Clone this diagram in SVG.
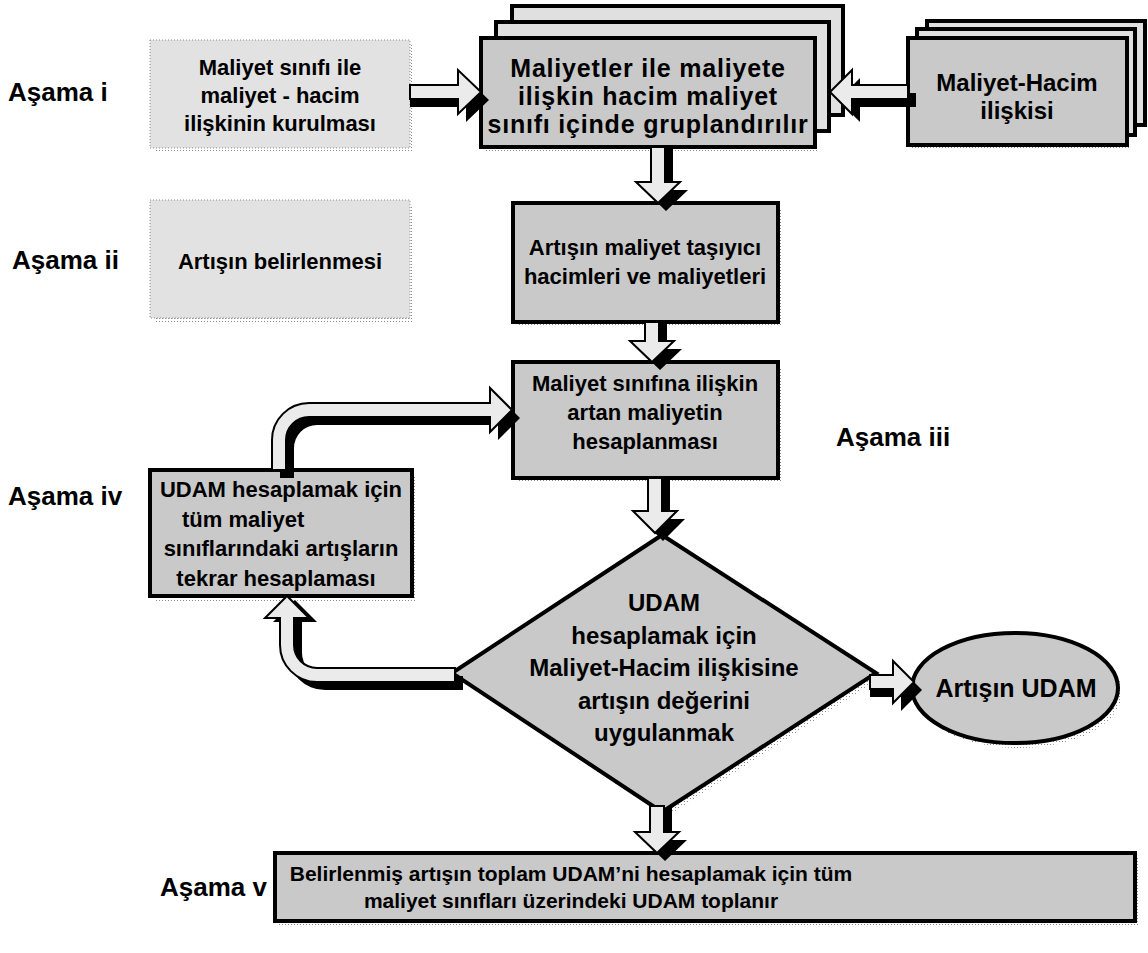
<svg xmlns="http://www.w3.org/2000/svg" width="1148" height="953" viewBox="0 0 1148 953">
  <defs>
    <pattern id="dots" width="3" height="3" patternUnits="userSpaceOnUse">
      <rect x="0" y="0" width="1" height="1" fill="#8c8c8c"/>
    </pattern>
    <style>
      text { font-family: "Liberation Sans", Arial, sans-serif; font-weight: bold; fill: #000; }
      .lbl { font-size: 26px; }
      .t { font-size: 22px; text-anchor: middle; }
      .tw { font-size: 25px; letter-spacing: 0.8px; text-anchor: middle; }
      .td { font-size: 24px; text-anchor: middle; }
      .tb { font-size: 21px; text-anchor: middle; }
      .soft { fill: #e2e2e2; stroke: #8a8a8a; stroke-width: 1; stroke-dasharray: 1 2; }
      .box { fill: #c9c9c9; stroke: #000; stroke-width: 4; }
      .back { fill: #e0e0e0; stroke: #000; stroke-width: 4; }
      .shadow { fill: url(#dots); }
      .lite { fill: #ebebeb; stroke: #000; stroke-width: 2; stroke-linejoin: miter; }
      .dark { fill: #000; }
    </style>
  </defs>

  <rect width="1148" height="953" fill="#fff"/>

  <!-- stage labels -->
  <g id="labels">
    <text class="lbl" x="8" y="101">Aşama i</text>
    <text class="lbl" x="12" y="269">Aşama ii</text>
    <text class="lbl" x="836" y="446">Aşama iii</text>
    <text class="lbl" x="8" y="505">Aşama iv</text>
    <text class="lbl" x="160" y="896">Aşama v</text>
  </g>

  <g id="nodes">
    <g id="n-sinif">
      <rect class="shadow" x="154" y="45" width="260" height="108"/>
      <rect class="soft" x="150" y="40" width="260" height="108"/>
      <text class="t" x="280" y="75">Maliyet sınıfı ile</text>
      <text class="t" x="280" y="103">maliyet - hacim</text>
      <text class="t" x="280" y="131">ilişkinin kurulması</text>
    </g>

    <g id="n-gruplama">
      <rect class="back" x="512" y="6" width="331" height="109"/>
      <rect class="back" x="496" y="22" width="333" height="109"/>
      <rect class="shadow" x="485" y="43" width="334" height="109"/>
      <rect class="box" x="481" y="38" width="334" height="109"/>
      <text class="tw" x="648" y="77">Maliyetler ile maliyete</text>
      <text class="tw" x="648" y="105">ilişkin hacim maliyet</text>
      <text class="tw" x="648" y="133">sınıfı içinde gruplandırılır</text>
    </g>

    <g id="n-iliski">
      <rect class="back" x="927" y="21" width="218" height="104"/>
      <rect class="back" x="917" y="29" width="218" height="106"/>
      <rect class="shadow" x="912" y="43" width="219" height="107"/>
      <rect class="box" x="908" y="38" width="219" height="107"/>
      <text class="td" x="1017" y="91">Maliyet-Hacim</text>
      <text class="td" x="1017" y="119">ilişkisi</text>
    </g>

    <g id="n-belirleme">
      <rect class="shadow" x="154" y="205" width="260" height="118"/>
      <rect class="soft" x="150" y="200" width="260" height="118"/>
      <text class="t" x="280" y="269">Artışın belirlenmesi</text>
    </g>

    <g id="n-hacimler">
      <rect class="shadow" x="517" y="208" width="265" height="119"/>
      <rect class="box" x="513" y="203" width="265" height="119"/>
      <text class="t" x="645" y="255">Artışın maliyet taşıyıcı</text>
      <text class="t" x="645" y="284">hacimleri ve maliyetleri</text>
    </g>

    <g id="n-artan">
      <rect class="shadow" x="517" y="367" width="265" height="116"/>
      <rect class="box" x="513" y="362" width="265" height="116"/>
      <text class="t" x="645" y="391">Maliyet sınıfına ilişkin</text>
      <text class="t" x="645" y="420">artan maliyetin</text>
      <text class="t" x="645" y="449">hesaplanması</text>
    </g>

    <g id="n-tekrar">
      <rect class="shadow" x="154" y="475" width="262" height="126"/>
      <rect class="box" x="150" y="470" width="262" height="126"/>
      <text class="t" x="281" y="497">UDAM hesaplamak için</text>
      <text class="t" x="182" y="527" style="text-anchor:start">tüm maliyet</text>
      <text class="t" x="281" y="556">sınıflarındaki artışların</text>
      <text class="t" x="276" y="586">tekrar hesaplaması</text>
    </g>

    <g id="n-uygula">
      <polygon class="shadow" points="666,540 880,678 666,817 456,678"/>
      <polygon class="box" points="662,535 876,673 662,812 452,673"/>
      <text class="td" x="664" y="611">UDAM</text>
      <text class="td" x="664" y="644">hesaplamak için</text>
      <text class="td" x="664" y="676">Maliyet-Hacim ilişkisine</text>
      <text class="td" x="664" y="709">artışın değerini</text>
      <text class="td" x="664" y="741">uygulanmak</text>
    </g>

    <g id="n-sonuc">
      <ellipse class="shadow" cx="1019" cy="693" rx="103" ry="55"/>
      <ellipse class="box" cx="1015" cy="688" rx="103" ry="55"/>
      <text class="td" x="1016" y="697" style="font-size:25px">Artışın UDAM</text>
    </g>

    <g id="n-toplam">
      <rect class="shadow" x="279" y="858" width="860" height="68"/>
      <rect class="box" x="275" y="853" width="860" height="68"/>
      <text class="tb" x="571" y="881">Belirlenmiş artışın toplam UDAM’ni hesaplamak için tüm</text>
      <text class="tb" x="571" y="908">maliyet sınıfları üzerindeki UDAM toplanır</text>
    </g>
  </g>

  <!-- block arrows: dark extrusion first, light face on top -->
  <g id="connectors">
    <g id="c-sinif-gruplama">
      <path class="dark" d="M410,93 H466 V78 L489,100 L466,122 V107 H410 Z"/>
      <path class="lite" d="M410,85 H458 V70 L481,92 L458,114 V99 H410 Z"/>
    </g>
    <g id="c-iliski-gruplama">
      <path class="dark" d="M916,93 H860 V78 L838,100 L860,122 V107 H916 Z"/>
      <path class="lite" d="M908,85 H852 V70 L830,92 L852,114 V99 H908 Z"/>
    </g>
    <g id="c-gruplama-hacimler">
      <path class="dark" d="M659,147 V190 H644 L666,211 L688,190 H673 V147 Z"/>
      <path class="lite" d="M651,147 V182 H636 L658,203 L680,182 H665 V147 Z"/>
    </g>
    <g id="c-hacimler-artan">
      <path class="dark" d="M653,322 V349 H638 L660,370 L682,349 H667 V322 Z"/>
      <path class="lite" d="M645,322 V341 H630 L652,362 L674,341 H659 V322 Z"/>
    </g>
    <g id="c-artan-uygula">
      <path class="dark" d="M656,478 V519 H641 L663,541 L685,519 H670 V478 Z"/>
      <path class="lite" d="M648,478 V511 H633 L655,533 L677,511 H662 V478 Z"/>
    </g>
    <g id="c-uygula-sonuc">
      <path class="dark" d="M870,683 H901 V669 L922,690 L901,711 V697 H870 Z"/>
      <path class="lite" d="M870,675 H893 V661 L914,682 L893,703 V689 H870 Z"/>
    </g>
    <g id="c-uygula-toplam">
      <path class="dark" d="M658,808 V840 H643 L665,861 L687,840 H672 V808 Z"/>
      <path class="lite" d="M650,806 V832 H635 L657,853 L679,832 H664 V806 Z"/>
    </g>
    <g id="c-uygula-tekrar">
      <path class="dark" transform="translate(8,8)" d="M455,668 H317 A23,23 0 0 1 294,645 V614 H309 L287,592 L265,614 H280 V645 A37,37 0 0 0 317,682 H455 Z"/>
      <path class="lite" d="M455,668 H317 A23,23 0 0 1 294,645 V618 H309 L287,596 L265,618 H280 V645 A37,37 0 0 0 317,682 H455 Z"/>
    </g>
    <g id="c-tekrar-artan">
      <path class="dark" transform="translate(8,8)" d="M272,470 V440 A37,37 0 0 1 309,403 H490 V388 L512,410 L490,432 V417 H309 A23,23 0 0 0 286,440 V470 Z"/>
      <path class="lite" d="M272,470 V440 A37,37 0 0 1 309,403 H490 V388 L512,410 L490,432 V417 H309 A23,23 0 0 0 286,440 V470 Z"/>
    </g>
  </g>
</svg>
